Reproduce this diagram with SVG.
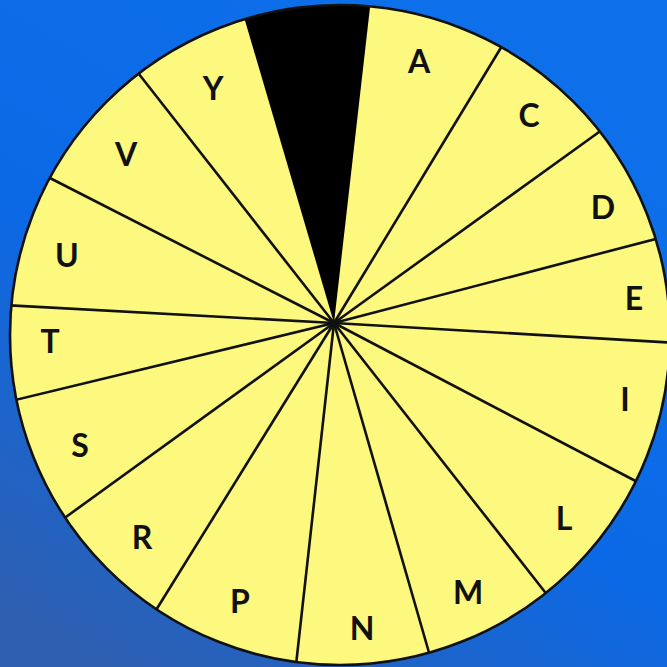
<svg xmlns="http://www.w3.org/2000/svg" width="667" height="667" viewBox="0 0 667 667">
  <style>
    .lbl { font-family: "Lato", "Liberation Sans", sans-serif; font-weight: 700; font-size: 32px; fill: #111; text-anchor: middle; dominant-baseline: central; }
    .spoke { stroke: #111; stroke-width: 2.6; fill: none; }
  </style>
  <defs>
    <linearGradient id="bg" x1="0.75" y1="0" x2="0.15" y2="1">
      <stop offset="0" stop-color="#0e70ea"/>
      <stop offset="0.55" stop-color="#0b69e6"/>
      <stop offset="1" stop-color="#2e5fb0"/>
    </linearGradient>
    <clipPath id="wheel">
      <circle cx="340" cy="335" r="330"/>
    </clipPath>
  </defs>
  <rect width="667" height="667" fill="url(#bg)"/>
  <g id="wheel-face">
    <circle cx="340" cy="335" r="330" fill="#fdf87e"/>
  </g>
  <g id="black-sector" clip-path="url(#wheel)">
    <polygon points="334,323 237.5,-5 371.4,-5" fill="#000"/>
  </g>
  <g id="spokes" clip-path="url(#wheel)">
    <line class="spoke" x1="334" y1="323" x2="505" y2="41"/>
    <line class="spoke" x1="334" y1="323" x2="606" y2="127"/>
    <line class="spoke" x1="334" y1="323" x2="667" y2="236"/>
    <line class="spoke" x1="334" y1="323" x2="678" y2="343"/>
    <line class="spoke" x1="334" y1="323" x2="647" y2="487"/>
    <line class="spoke" x1="334" y1="323" x2="552" y2="601"/>
    <line class="spoke" x1="334" y1="323" x2="432" y2="663"/>
    <line class="spoke" x1="334" y1="323" x2="295" y2="674"/>
    <line class="spoke" x1="334" y1="323" x2="153" y2="615"/>
    <line class="spoke" x1="334" y1="323" x2="59" y2="522"/>
    <line class="spoke" x1="334" y1="323" x2="7" y2="402"/>
    <line class="spoke" x1="334" y1="323" x2="3" y2="305"/>
    <line class="spoke" x1="334" y1="323" x2="42" y2="174"/>
    <line class="spoke" x1="334" y1="323" x2="135" y2="69"/>
    <circle cx="334" cy="323" r="3.5" fill="#111"/>
  </g>
  <g id="rim">
    <circle cx="340" cy="335" r="330" fill="none" stroke="#111" stroke-width="2.6"/>
  </g>
  <g id="label-A"><text class="lbl" x="419" y="60">A</text></g>
  <g id="label-C"><text class="lbl" x="529" y="114">C</text></g>
  <g id="label-D"><text class="lbl" x="603" y="206">D</text></g>
  <g id="label-E"><text class="lbl" x="634" y="297">E</text></g>
  <g id="label-I"><text class="lbl" x="625" y="398">I</text></g>
  <g id="label-L"><text class="lbl" x="564" y="517">L</text></g>
  <g id="label-M"><text class="lbl" x="468" y="591">M</text></g>
  <g id="label-N"><text class="lbl" x="362" y="627">N</text></g>
  <g id="label-P"><text class="lbl" x="240" y="600">P</text></g>
  <g id="label-R"><text class="lbl" x="142" y="536">R</text></g>
  <g id="label-S"><text class="lbl" x="80" y="444">S</text></g>
  <g id="label-T"><text class="lbl" x="50" y="340">T</text></g>
  <g id="label-U"><text class="lbl" x="67" y="254">U</text></g>
  <g id="label-V"><text class="lbl" x="126" y="153">V</text></g>
  <g id="label-Y"><text class="lbl" x="213" y="87">Y</text></g>
</svg>
